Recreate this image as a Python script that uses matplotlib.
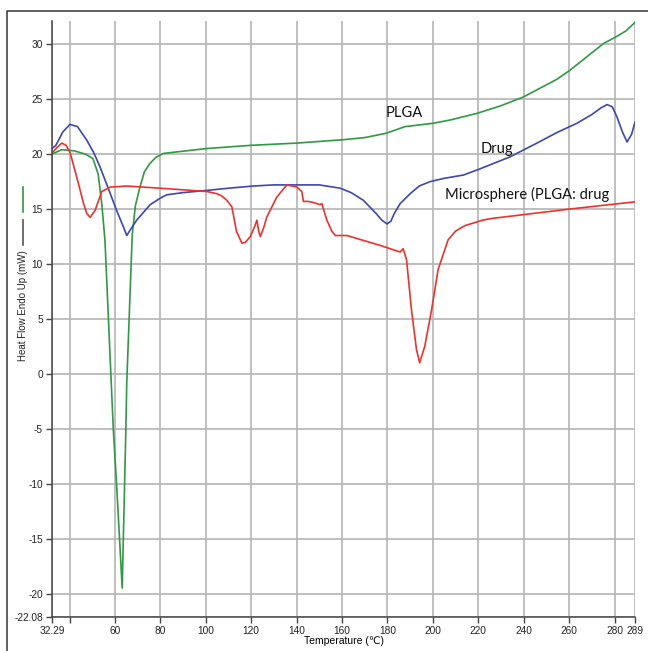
import matplotlib
matplotlib.use('Agg')
import matplotlib.pyplot as plt
from matplotlib.lines import Line2D

# PLGA (green)
plga_t = [32.29, 36.5, 42, 47, 50.3, 52.6, 54.2, 55.6, 59.3, 60.7, 63.2, 64.8, 65.2, 67.6, 69, 71.0,
          73, 75.4, 78, 81.3, 100, 120, 140, 160, 170, 179.5, 187.8, 200, 207.6, 219.4, 230, 239.9,
          254.6, 260.2, 267.8, 275.2, 281, 285, 289]
plga_hf = [20.0, 20.4, 20.3, 20.0, 19.6, 18.2, 15.5, 12.2, -5.1, -9.9, -19.45, -5.1, -0.85, 12.6, 15.3, 17.0,
           18.4, 19.15, 19.7, 20.06, 20.5, 20.8, 21.0, 21.3, 21.5, 21.9, 22.5, 22.8, 23.1, 23.7, 24.4, 25.2,
           26.8, 27.6, 28.85, 30.06, 30.7, 31.2, 31.97]

# Drug (blue)
drug_t = [32.29, 34, 37, 40.2, 43.5, 47.5, 50.5, 53.4, 56.3, 60.7, 63.5, 65.2, 67, 69.6, 75.5, 80,
          82.8, 90, 100.5, 110, 121, 130, 140.1, 150, 159.2, 164, 169.4, 175, 177.5, 179.8, 181.5,
          183, 185.6, 190, 194, 198.8, 205, 213.5, 220, 234, 245.8, 255, 263.4, 270, 274, 276.7,
          279, 281, 283.5, 285.5, 287.5, 289]
drug_hf = [20.5, 20.8, 22.0, 22.7, 22.5, 21.3, 20.2, 18.85, 17.3, 14.9, 13.5, 12.6, 13.2, 14.0, 15.4, 16.0,
           16.3, 16.5, 16.7, 16.9, 17.1, 17.2, 17.2, 17.2, 16.9, 16.5, 15.8, 14.6, 14.0, 13.65, 13.9,
           14.6, 15.5, 16.4, 17.1, 17.5, 17.8, 18.1, 18.6, 19.75, 21.0, 22.0, 22.8, 23.6, 24.2, 24.5,
           24.3, 23.4, 22.0, 21.1, 21.8, 22.9]

# Microsphere (red)
micro_t = [32.29, 34.5, 36.6, 38.5, 40.3, 43.2, 46.2, 47.6, 49.1, 51.3, 54.2, 57.9, 65.2, 80, 100.5,
           104.9, 107, 109.3, 111.5, 113.5, 115.9, 117.5, 119.6, 121.5, 122.5, 123.3, 124, 125.5,
           126.9, 131.3, 135.7, 138, 140.1, 142.3, 143.0, 145, 147.4, 149, 150.3, 151.1, 153.3,
           155.5, 157, 162.1, 176.8, 185.6, 186.9, 188.4, 190.6, 192.8, 194.2, 196.4, 199.4, 202.3,
           206.7, 210, 214.1, 222, 226, 240, 260, 289]
micro_hf = [20.1, 20.6, 21.0, 20.8, 20.1, 17.9, 15.5, 14.6, 14.25, 14.9, 16.6, 17.0, 17.1, 16.9, 16.6,
            16.4, 16.2, 15.8, 15.2, 13.0, 11.9, 12.0, 12.5, 13.4, 14.0, 13.0, 12.5, 13.3,
            14.3, 16.1, 17.2, 17.1, 17.0, 16.6, 15.7, 15.7, 15.6, 15.5, 15.4, 15.5, 14.0,
            13.0, 12.6, 12.6, 11.7, 11.1, 11.4, 10.4, 5.8, 2.2, 1.03, 2.5, 5.8, 9.5,
            12.2, 13.0, 13.5, 14.0, 14.15, 14.5, 15.0, 15.66]

x_ticks = [32.29, 40, 60, 80, 100, 120, 140, 160, 180, 200, 220, 240, 260, 280, 289]
x_labels = ['32.29', '', '60', '80', '100', '120', '140', '160', '180', '200', '220', '240', '260', '280', '289']
y_ticks = [-22.08, -20, -15, -10, -5, 0, 5, 10, 15, 20, 25, 30]
y_labels = ['-22.08', '-20', '-15', '-10', '-5', '0', '5', '10', '15', '20', '25', '30']

plt.rcParams['font.family'] = ['Liberation Sans', 'DejaVu Sans']

fig = plt.figure(figsize=(6.48, 6.51), dpi=100)
ax = fig.add_axes([52 / 648, 34 / 651, 583 / 648, 596 / 651])

ax.plot(plga_t, plga_hf, color='#2e9a42', lw=1.2)
ax.plot(drug_t, drug_hf, color='#3c47b0', lw=1.2)
ax.plot(micro_t, micro_hf, color='#f0302c', lw=1.2)

ax.set_xlim(32.29, 289)
ax.set_ylim(-22.08, 32.1)
ax.set_xticks(x_ticks)
ax.set_xticklabels(x_labels)
ax.set_yticks(y_ticks)
ax.set_yticklabels(y_labels)
ax.grid(True, color='#b4b4b4', lw=1.2)
ax.set_axisbelow(True)
for s in ['top', 'right']:
    ax.spines[s].set_visible(False)
for s in ['left', 'bottom']:
    ax.spines[s].set_color('#444444')
    ax.spines[s].set_linewidth(1.1)
ax.tick_params(direction='out', length=4, width=1, color='#444444',
               labelsize=7.3, labelcolor='#222222', pad=2.5)

ax.set_xlabel('Temperature (℃)', fontsize=7.5, labelpad=0)

# annotations
ann = dict(fontsize=10.6, family=['Lato', 'DejaVu Sans'], color='#111111', va='center')
ax.text(179.4, 23.75, 'PLGA', **ann)
ax.text(220.9, 20.5, 'Drug', **ann)
ax.text(205.5, 16.3, 'Microsphere (PLGA: drug', **ann)

# y label with its little colour keys
fig.text(23 / 648, 1 - 306 / 651, 'Heat Flow Endo Up (mW)', rotation=90,
         fontsize=7, ha='center', va='center', color='#222222')
fig.add_artist(Line2D([23 / 648, 23 / 648], [1 - 187 / 651, 1 - 212 / 651], color='#2e9a42', lw=1.2))
fig.add_artist(Line2D([23 / 648, 23 / 648], [1 - 220 / 651, 1 - 245 / 651], color='#555555', lw=1.2))

# outer frame
fig.add_artist(Line2D([7 / 648, 7 / 648, 1], [0, 1 - 10.5 / 651, 1 - 10.5 / 651], color='#444444', lw=1.2))

fig.savefig('out.png', dpi=100)
